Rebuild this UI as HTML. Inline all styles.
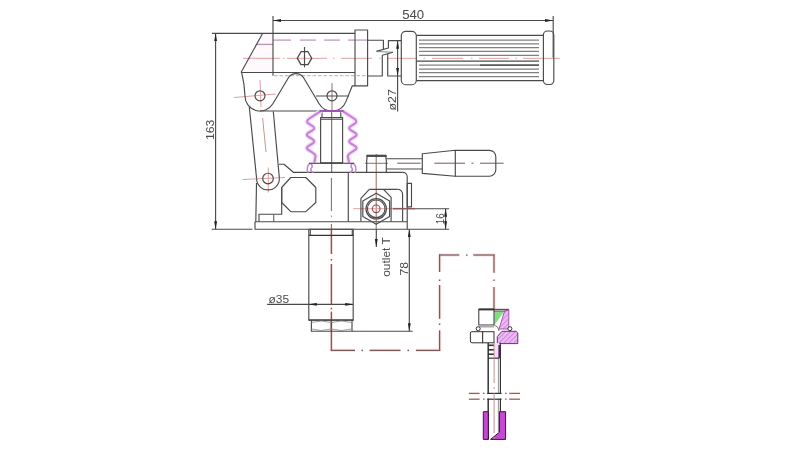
<!DOCTYPE html>
<html><head><meta charset="utf-8">
<style>
html,body{margin:0;padding:0;background:#fff;width:800px;height:450px;overflow:hidden}
svg{display:block;-webkit-font-smoothing:antialiased}
text{font-family:"Liberation Sans",sans-serif;fill:#4a4a4a}
</style></head>
<body>
<svg width="800" height="450" viewBox="0 0 800 450">
<defs>
<marker id="ar" viewBox="0 0 10 4" refX="10" refY="2" markerWidth="8" markerHeight="3.2" orient="auto-start-reverse" markerUnits="userSpaceOnUse">
<path d="M0,0.2 L10,2 L0,3.8 z" fill="#222"/>
</marker>
<pattern id="hatch" width="3.5" height="3.5" patternUnits="userSpaceOnUse" patternTransform="rotate(45)">
<rect width="3.5" height="3.5" fill="#eab8f2"/><line x1="0" y1="0" x2="0" y2="3.5" stroke="#c060d0" stroke-width="1"/>
</pattern>
</defs>

<!-- light pink fills -->
<path d="M262.7,33.3 L273,33.3 L273,72.5 L241,72.5 Z" fill="#fef9fd"/>

<!-- centerlines (light red) -->
<g stroke="#e0a0a0" stroke-width="1" fill="none">
<line x1="243" y1="58.3" x2="280" y2="58.3"/><line x1="283" y1="58.3" x2="284.5" y2="58.3"/>
<line x1="287" y1="58.3" x2="327" y2="58.3"/><line x1="333" y1="58.3" x2="334.5" y2="58.3"/>
<line x1="341" y1="58.3" x2="372" y2="58.3"/><line x1="379" y1="58.3" x2="380.5" y2="58.3"/><line x1="388" y1="58.3" x2="416" y2="58.3"/><line x1="423.5" y1="58.3" x2="425" y2="58.3"/><line x1="432" y1="58.3" x2="463" y2="58.3"/><line x1="471" y1="58.3" x2="472.5" y2="58.3"/><line x1="479" y1="58.3" x2="509" y2="58.3"/><line x1="515.5" y1="58.3" x2="517" y2="58.3"/><line x1="523" y1="58.3" x2="560" y2="58.3"/>
<line x1="234" y1="97.5" x2="276" y2="94"/>
<line x1="260" y1="80" x2="261" y2="107"/>
<line x1="332" y1="83" x2="332" y2="111" stroke="#9a7070"/>
<line x1="331.7" y1="111" x2="331.7" y2="172" stroke="#6a5555"/>
<line x1="331.4" y1="178" x2="331.4" y2="211" stroke="#806464"/><line x1="331.4" y1="215.5" x2="331.4" y2="217" stroke="#a08080"/><line x1="331.4" y1="224" x2="331.4" y2="229.4" stroke="#8a6060"/>
<line x1="262.6" y1="118" x2="266" y2="152" stroke="#c89494"/>
<line x1="242.5" y1="179.5" x2="285" y2="177.5"/>
<line x1="268.3" y1="167.5" x2="268.3" y2="192.5"/>
<line x1="397.2" y1="163.2" x2="420.6" y2="163.2" stroke="#7a5858"/><line x1="434.4" y1="163.2" x2="465" y2="163.2" stroke="#7a5858"/><line x1="471.5" y1="163.2" x2="473.5" y2="163.2" stroke="#7a5858"/><line x1="480" y1="163.2" x2="503.7" y2="163.2" stroke="#7a5858"/>
<line x1="365" y1="163.3" x2="388" y2="163.3" stroke="#907070"/>
<line x1="376.2" y1="154" x2="376.2" y2="229" stroke="#906868"/>
<line x1="353.3" y1="208.7" x2="392" y2="208.7"/>

</g>
<!-- dark red dash path -->
<g stroke="#f6e2e2" stroke-width="3.2" fill="none">
<line x1="331.4" y1="229.4" x2="331.4" y2="254"/><line x1="331.4" y1="259" x2="331.4" y2="260.5"/><line x1="331.4" y1="264" x2="331.4" y2="304.5"/><line x1="331.4" y1="307.8" x2="331.4" y2="309.3"/><line x1="331.4" y1="311.7" x2="331.4" y2="351"/>
<line x1="330.8" y1="350.4" x2="355" y2="350.4"/><line x1="361.5" y1="350.4" x2="363" y2="350.4"/><line x1="369.6" y1="350.4" x2="400.5" y2="350.4"/><line x1="407.5" y1="350.4" x2="409" y2="350.4"/><line x1="416" y1="350.4" x2="440.2" y2="350.4"/>
<line x1="439.6" y1="254.4" x2="439.6" y2="272"/><line x1="439.6" y1="279.5" x2="439.6" y2="281"/><line x1="439.6" y1="285" x2="439.6" y2="318.8"/><line x1="439.6" y1="323.5" x2="439.6" y2="325"/><line x1="439.6" y1="330.4" x2="439.6" y2="351"/>
<line x1="439" y1="255" x2="459.3" y2="255"/><line x1="466" y1="255" x2="467.5" y2="255"/><line x1="473.3" y1="255" x2="494.6" y2="255"/>
<line x1="494" y1="254.4" x2="494" y2="272.7"/><line x1="494" y1="279.5" x2="494" y2="281"/><line x1="494" y1="287.1" x2="494" y2="309"/>
</g>
<g stroke="#7e5858" stroke-width="1.25" fill="none">
<line x1="331.4" y1="229.4" x2="331.4" y2="254"/><line x1="331.4" y1="259" x2="331.4" y2="260.5"/><line x1="331.4" y1="264" x2="331.4" y2="304.5"/><line x1="331.4" y1="307.8" x2="331.4" y2="309.3"/><line x1="331.4" y1="311.7" x2="331.4" y2="351"/>
<line x1="330.8" y1="350.4" x2="355" y2="350.4"/><line x1="361.5" y1="350.4" x2="363" y2="350.4"/><line x1="369.6" y1="350.4" x2="400.5" y2="350.4"/><line x1="407.5" y1="350.4" x2="409" y2="350.4"/><line x1="416" y1="350.4" x2="440.2" y2="350.4"/>
<line x1="439.6" y1="254.4" x2="439.6" y2="272"/><line x1="439.6" y1="279.5" x2="439.6" y2="281"/><line x1="439.6" y1="285" x2="439.6" y2="318.8"/><line x1="439.6" y1="323.5" x2="439.6" y2="325"/><line x1="439.6" y1="330.4" x2="439.6" y2="351"/>
<line x1="439" y1="255" x2="459.3" y2="255"/><line x1="466" y1="255" x2="467.5" y2="255"/><line x1="473.3" y1="255" x2="494.6" y2="255"/>
<line x1="494" y1="254.4" x2="494" y2="272.7"/><line x1="494" y1="279.5" x2="494" y2="281"/><line x1="494" y1="287.1" x2="494" y2="309"/>
</g>

<!-- magenta hidden lines -->
<g stroke="#dcb4dc" stroke-width="1.3" fill="none">
<g stroke="#c09ac0"><line x1="273" y1="40.1" x2="291" y2="40.1"/><line x1="300" y1="40.1" x2="316" y2="40.1"/><line x1="324" y1="40.1" x2="340" y2="40.1"/><line x1="348" y1="40.1" x2="367.6" y2="40.1"/></g>
<line x1="274" y1="75.6" x2="367" y2="75.6" stroke-dasharray="3.5,2" stroke="#d0b4d0" stroke-width="1.1"/>
<line x1="257" y1="44.4" x2="273" y2="44.4" stroke="#b890b0"/>
</g>

<!-- main dark lines -->
<g stroke="#4a4a4a" stroke-width="1.15" fill="none" stroke-linejoin="round">
<!-- 540 dim -->
<line x1="273" y1="20.5" x2="553" y2="20.5" marker-start="url(#ar)" marker-end="url(#ar)"/>
<line x1="273" y1="16" x2="273" y2="75.7"/>
<line x1="553.2" y1="16" x2="553.2" y2="57.5"/>
<!-- 163 dim -->
<line x1="212" y1="33.3" x2="355" y2="33.3"/>
<line x1="211.7" y1="229.2" x2="252.5" y2="229.2"/>
<line x1="215.6" y1="33.3" x2="215.6" y2="229.2" marker-start="url(#ar)" marker-end="url(#ar)"/>
<!-- arm -->
<line x1="262.7" y1="33.3" x2="241" y2="72.5"/>
<line x1="241" y1="72.5" x2="355" y2="72.5"/>
<rect x="355" y="30" width="12.6" height="55.8"/>
<polyline points="367.6,40.2 383.4,40.2 383.4,49.3"/>
<polyline points="376.3,51.4 388.4,48 388.4,40.6 401.3,40.6"/>
<line x1="377" y1="51.5" x2="393" y2="52.3" stroke-width="0.9" stroke="#777"/>
<polyline points="367.6,76 382.3,76 382.3,55.3 393,52.3"/>
<polyline points="387.7,53.9 387.7,76 401.3,76"/>
<line x1="397.6" y1="40.7" x2="397.6" y2="76" marker-start="url(#ar)" marker-end="url(#ar)"/>
<line x1="397.6" y1="76" x2="397.6" y2="111.5"/>
<!-- pin -->
<polygon points="297.3,58.3 301,51.7 308,51.7 311.7,58.3 308,64.7 301,64.7" stroke-width="1.3"/>
<line x1="304.5" y1="47" x2="304.5" y2="67.3"/>
<!-- grip -->
<rect x="401.3" y="31.3" width="15" height="53.4" rx="4.5"/>
<rect x="543.4" y="31" width="10.4" height="53.5" rx="4"/>
<line x1="416.3" y1="35.4" x2="543.4" y2="35.4"/>
<line x1="416.3" y1="80.6" x2="543.4" y2="80.6"/>
<line x1="416.3" y1="61.1" x2="539" y2="61.1"/>
</g>
<g stroke="#808080" stroke-width="1.2" fill="none">
<line x1="419" y1="40.2" x2="539" y2="40.2"/>
<line x1="419" y1="43.8" x2="539" y2="43.8"/>
<line x1="419" y1="47.7" x2="539" y2="47.7"/>
<line x1="419" y1="51.4" x2="539" y2="51.4"/>
<line x1="419" y1="55.3" x2="539" y2="55.3"/>
<line x1="419" y1="65.2" x2="539" y2="65.2"/>
<line x1="480" y1="65.2" x2="539" y2="65.2" stroke="#444"/>
<line x1="419" y1="69.1" x2="539" y2="69.1"/>
<line x1="419" y1="72.7" x2="539" y2="72.7"/>
<line x1="419" y1="76.6" x2="539" y2="76.6"/>
</g>

<g stroke="#4a4a4a" stroke-width="1.15" fill="none" stroke-linejoin="round">
<!-- link plate -->
<path d="M241.7,72.7 Q244.5,84 245,96 A15,15 0 0 0 272.87,103.71 L288.28,77.98 A9,9 0 0 1 303.72,77.98 L319.13,103.71 A15,15 0 0 0 345.9,101.6 L352.3,85.8 L355,85.8"/>
<line x1="260" y1="111" x2="332" y2="111"/>
<line x1="316" y1="96" x2="349" y2="96"/>
<circle cx="260" cy="95.8" r="5"/>
<circle cx="332" cy="95.8" r="5"/>
<!-- lever -->
<line x1="249.3" y1="107" x2="256.6" y2="178.5"/>
<line x1="273.3" y1="111.5" x2="279.4" y2="178.5"/>
<path d="M256.6,178.5 A11.4,11.4 0 0 0 279.4,178.5"/>
<circle cx="268" cy="178.5" r="5.3"/>
<!-- piston rod -->
<rect x="320.6" y="117.5" width="22" height="45.3"/>
<line x1="320.6" y1="119.2" x2="342.6" y2="119.2"/>
<polyline points="322,117.5 322,111 340.8,111 340.8,117.5"/>
<!-- body -->
<polyline points="279,164.2 284,164.2 293.3,172.3 402.7,172.3"/>
<polygon points="290.8,177.5 305.8,177.5 315.8,187.5 315.8,202.5 305.8,211.7 290.8,211.7 281.7,202.5 281.7,187.5"/>
<line x1="256.5" y1="183" x2="255.8" y2="221.7"/>
<polyline points="281.7,187.5 281.7,214.2 259,214.2 259,221.7"/>
<line x1="273.7" y1="214.2" x2="273.7" y2="221.7" stroke="#666"/>
<polyline points="255,221.7 255,229.2 449.1,229.2"/>
<line x1="255" y1="221.7" x2="407.2" y2="221.7"/>
<line x1="348.3" y1="172.3" x2="348.3" y2="221.7"/>
<!-- valve block -->
<path d="M402.7,172.3 A4.5,4.5 0 0 1 407.2,176.8 L407.2,229.2"/>
<rect x="407.2" y="183.3" width="4.3" height="23.5"/>
<path d="M369.3,189.3 L397,189.3 A5,5 0 0 1 402.6,194.5 L402.6,221.4"/>
<polyline points="360.9,221.4 360.9,198.3 369.3,189.3"/>
<polyline points="383.6,189.3 391.1,197.4 391.1,221.4"/>
<polygon points="376.2,193.3 389.6,201.05 389.6,216.55 376.2,224.3 362.8,216.55 362.8,201.05"/>
<circle cx="376.2" cy="208.8" r="10.2"/>
<circle cx="376.2" cy="208.8" r="8.8"/>
<circle cx="376.2" cy="208.8" r="3.8" stroke="#8a5050"/>
<!-- cap -->
<path d="M366.7,172.3 L366.7,160 Q367.5,158 366.7,155.8 L386.3,155.8 Q385.5,158 386.3,160 L386.3,172.3"/>
<line x1="366.7" y1="155.8" x2="386.3" y2="155.8" stroke-width="2.2"/>
<!-- handle -->
<line x1="386.3" y1="158.7" x2="422.3" y2="158.7"/>
<line x1="386.3" y1="169" x2="422.3" y2="169"/>
<path d="M422.3,153.7 L455.3,150.3 L489.3,150.3 A6.5,6.5 0 0 1 495.8,156.8 L495.8,169.7 A6.5,6.5 0 0 1 489.3,176.2 L455.3,176.2 L422.3,173.4 Z"/>
<line x1="455.3" y1="150.3" x2="455.3" y2="176.6"/>
<!-- 16 dim -->
<line x1="392.5" y1="208.7" x2="415" y2="208.7" stroke="#8a5a5a" stroke-width="1.6"/>
<line x1="415" y1="208.7" x2="449.1" y2="208.7"/>
<line x1="445.6" y1="208.7" x2="445.6" y2="229.2" marker-start="url(#ar)" marker-end="url(#ar)"/>
<!-- cylinder -->
<rect x="308.8" y="229.2" width="44.4" height="91"/>
<line x1="310.3" y1="229.4" x2="310.3" y2="235.4"/>
<line x1="352.3" y1="229.4" x2="352.3" y2="235.4"/>
<line x1="309" y1="235.4" x2="353.4" y2="235.4" stroke="#333"/>
<line x1="308.8" y1="320.1" x2="353.4" y2="320.1" stroke-width="1.5"/>
<polyline points="311.4,320.1 311.4,331.2 352,331.2 352,320.1"/>
<line x1="331.3" y1="320.1" x2="331.3" y2="331.2"/>
<path d="M311.4,322.5 Q321.3,319.5 331.3,322.5 Q341.3,319.5 352,322.5" stroke="#888" stroke-width="0.8"/>
<path d="M311.4,329 Q321.3,332 331.3,329 Q341.3,332 352,329" stroke="#888" stroke-width="0.8"/>
<line x1="352" y1="331.2" x2="412.7" y2="331.2"/>
<!-- 35 dim -->
<line x1="267.1" y1="304.4" x2="308.8" y2="304.4"/>
<line x1="308.8" y1="304.4" x2="353.2" y2="304.4" marker-start="url(#ar)" marker-end="url(#ar)"/>
<!-- 78 dim -->
<line x1="409.3" y1="229.2" x2="409.3" y2="331.2" marker-start="url(#ar)" marker-end="url(#ar)"/>
<!-- outlet arrow -->
<line x1="376.3" y1="229.2" x2="376.3" y2="247" marker-end="url(#ar)"/>
</g>

<!-- bellows -->
<g stroke="#f3dcf5" stroke-width="4.6" fill="none" stroke-linecap="round">
<path d="M320.70,111.20 L310.18,117.97 Q305.00,121.30 308.63,123.61 L312.37,125.99 Q316.00,128.30 312.37,130.38 L308.63,132.52 Q305.00,134.60 308.63,136.88 L312.37,139.22 Q316.00,141.50 312.37,143.61 L308.63,145.79 Q305.00,147.90 308.63,150.18 L312.37,152.52 Q316.00,154.80 315.50,157.01 L314.50,161.50"/><path d="M342.70,111.20 L353.22,117.97 Q358.40,121.30 354.77,123.61 L351.03,125.99 Q347.40,128.30 351.03,130.38 L354.77,132.52 Q358.40,134.60 354.77,136.88 L351.03,139.22 Q347.40,141.50 351.03,143.61 L354.77,145.79 Q358.40,147.90 354.77,150.18 L351.03,152.52 Q347.40,154.80 347.89,157.01 L348.90,161.50"/>
</g>
<g stroke="#c67ed8" stroke-width="2" fill="none" stroke-linejoin="round" stroke-linecap="round">
<path d="M320.70,111.20 L310.18,117.97 Q305.00,121.30 308.63,123.61 L312.37,125.99 Q316.00,128.30 312.37,130.38 L308.63,132.52 Q305.00,134.60 308.63,136.88 L312.37,139.22 Q316.00,141.50 312.37,143.61 L308.63,145.79 Q305.00,147.90 308.63,150.18 L312.37,152.52 Q316.00,154.80 315.50,157.01 L314.50,161.50"/><path d="M342.70,111.20 L353.22,117.97 Q358.40,121.30 354.77,123.61 L351.03,125.99 Q347.40,128.30 351.03,130.38 L354.77,132.52 Q358.40,134.60 354.77,136.88 L351.03,139.22 Q347.40,141.50 351.03,143.61 L354.77,145.79 Q358.40,147.90 354.77,150.18 L351.03,152.52 Q347.40,154.80 347.89,157.01 L348.90,161.50"/>
<path d="M309.5,163.5 Q306,167 308,172.3 M311,163.8 Q313.5,166.5 311,168.5 Q310,170.5 312.8,172.3" stroke-width="1.5"/><path d="M353.7,163.5 Q357.2,167 355.2,172.3 M352.2,163.8 Q349.7,166.5 352.2,168.5 Q353.2,170.5 350.4,172.3" stroke-width="1.5"/>
</g>
<g stroke="#333" stroke-width="1.1" fill="none">
<line x1="309" y1="163.3" x2="354" y2="163.3"/>
</g>

<line x1="319.5" y1="111" x2="343.5" y2="111" stroke="#a050b8" stroke-width="1.8"/>
<!-- fitting -->
<path d="M504.5,311.3 L508.8,309.6 L508.8,329 L499,329 Z" fill="url(#hatch)" stroke="#9a4aa8" stroke-width="0.9"/>
<path d="M497.3,343.6 L497.3,336.5 L502,331.3 L516,331.3 L517.8,333 L517.8,343.6 Z" fill="url(#hatch)" stroke="#6a3070" stroke-width="1"/>
<path d="M494.4,311.5 L504.2,311.5 L494.4,325 Z" fill="#80e080"/>
<line x1="494" y1="309.6" x2="508.8" y2="309.6" stroke="#6a4070" stroke-width="1.6"/>
<line x1="494" y1="311.3" x2="505" y2="311.3" stroke="#555" stroke-width="0.8"/>
<path d="M494.4,325 Q499,327 499,331" stroke="#555" stroke-width="0.8" fill="none"/>
<rect x="494.3" y="343" width="5" height="15" fill="#f6ddf8"/>
<g stroke="#333" stroke-width="1" fill="none">
<rect x="478.8" y="309.4" width="15.2" height="15.6" fill="#fff"/>
<line x1="478.8" y1="309.4" x2="494" y2="309.4" stroke-width="2"/>
<rect x="479" y="325" width="15" height="2.5" fill="#aaa" stroke="none"/>
<path d="M470.4,333 Q470.4,331.7 472,331.7 L482.7,331.7 L482.7,342.8 L472,342.8 Q470.4,342.8 470.4,341 Z" fill="#fff"/>
<rect x="482.7" y="331.7" width="11.3" height="11.1" fill="#fff"/>
<circle cx="478.2" cy="328.7" r="2" fill="#fff"/>
<circle cx="509.9" cy="328.7" r="2" fill="#fff"/>
<line x1="488.2" y1="342.8" x2="488.2" y2="439.4" stroke-width="1.5"/>
<line x1="500.4" y1="342.8" x2="500.4" y2="439.4" stroke-width="1.2"/>
<line x1="498.4" y1="358" x2="498.4" y2="432" stroke="#888" stroke-width="0.9"/>
<line x1="488.2" y1="345.3" x2="494.1" y2="345.3" stroke-width="1.6"/>
<line x1="488.2" y1="349.8" x2="494.1" y2="349.8" stroke-width="1.6"/>
<line x1="488.2" y1="354.2" x2="494.1" y2="354.2" stroke-width="1.6"/>
<line x1="488.2" y1="358.2" x2="499.4" y2="358.2" stroke-width="1.2"/>
<line x1="499.4" y1="345" x2="499.4" y2="358" stroke="#502060" stroke-width="2"/>
</g>
<g stroke="#40103f" stroke-width="1" fill="#c448d4">
<path d="M483.3,439.4 L483.3,411.7 L488.3,411.7 L488.3,439.4 Z"/>
<path d="M499.4,411.7 L505.6,411.7 L505.6,439.4 L490.6,439.4 L499.4,432.2 Z"/>
</g>
<rect x="486" y="394" width="16" height="4.6" fill="#fff"/>
<g stroke="#a05a5a" stroke-width="1.3"><line x1="468.8" y1="393.4" x2="479.6" y2="393.4"/><line x1="483" y1="393.4" x2="484.6" y2="393.4"/><line x1="505" y1="393.4" x2="506.6" y2="393.4"/><line x1="509.2" y1="393.4" x2="520" y2="393.4"/><line x1="468.8" y1="399.2" x2="479.6" y2="399.2"/><line x1="483" y1="399.2" x2="484.6" y2="399.2"/><line x1="505" y1="399.2" x2="506.6" y2="399.2"/><line x1="509.2" y1="399.2" x2="520" y2="399.2"/></g>
<g stroke="#333" stroke-width="1.2"><line x1="487.2" y1="393.4" x2="501.6" y2="393.4"/><line x1="487.2" y1="399.2" x2="501.6" y2="399.2"/></g>

<line x1="494.1" y1="343" x2="494.1" y2="440" stroke="#c09090" stroke-width="1" stroke-dasharray="40,4,2,4"/>
<!-- texts -->
<g style="filter:grayscale(1)">
<text x="402.2" y="19.3" font-size="12.5" textLength="22" lengthAdjust="spacingAndGlyphs">540</text>
<text transform="translate(214,140) rotate(-90)" font-size="11.5" textLength="20.3" lengthAdjust="spacingAndGlyphs">163</text>
<text transform="translate(396,110.5) rotate(-90)" font-size="11" textLength="21.3" lengthAdjust="spacingAndGlyphs">ø27</text>
<text x="268.5" y="302.6" font-size="11.5" textLength="20.6" lengthAdjust="spacingAndGlyphs">ø35</text>
<text transform="translate(443.8,224.2) rotate(-90)" font-size="10" textLength="11" lengthAdjust="spacingAndGlyphs">16</text>
<text transform="translate(408.3,275.5) rotate(-90)" font-size="11.3" textLength="13.5" lengthAdjust="spacingAndGlyphs">78</text>
<text transform="translate(389.7,276.8) rotate(-90)" font-size="10.8" textLength="39.5" lengthAdjust="spacingAndGlyphs">outlet T</text>
</g>
</svg>
</body></html>
